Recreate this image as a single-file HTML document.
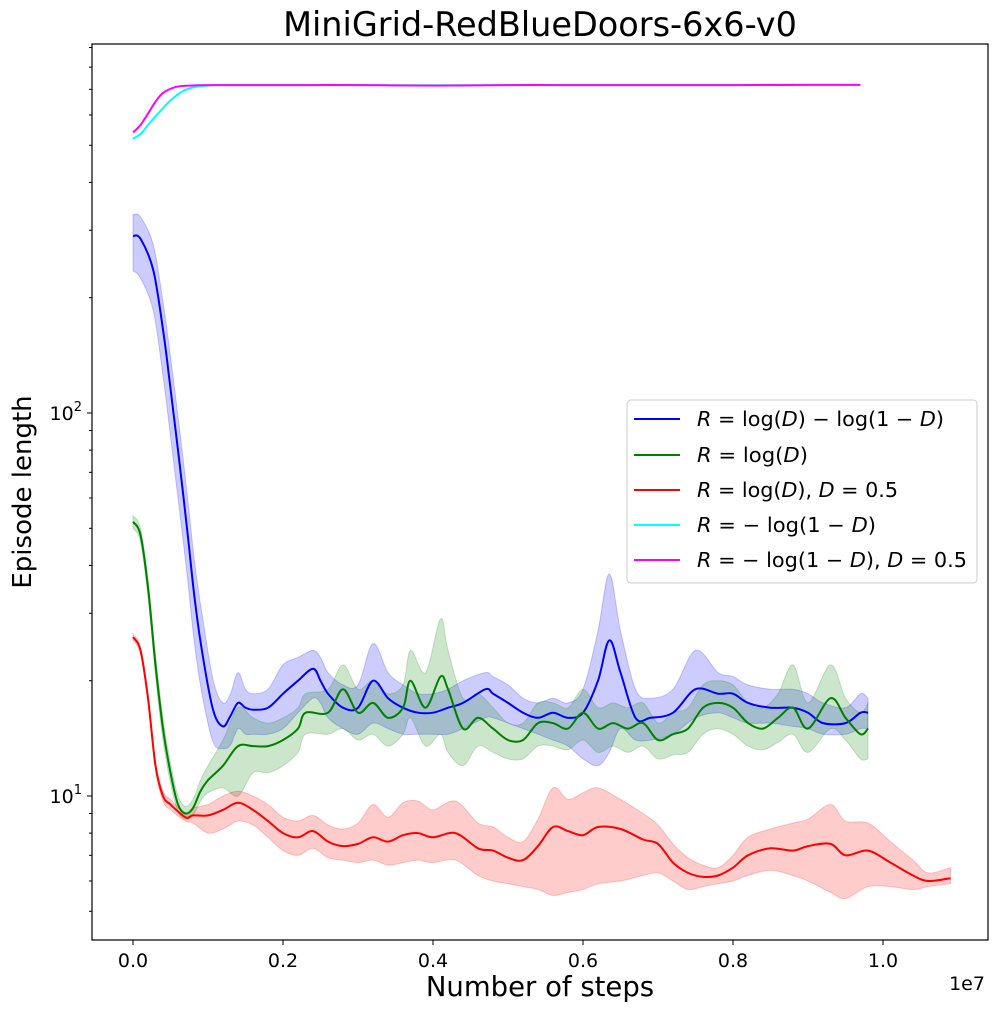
<!DOCTYPE html>
<html><head><meta charset="utf-8"><style>
body{margin:0;background:#fff;}
svg text{font-family:"DejaVu Sans","Liberation Sans",sans-serif;}
</style></head><body>
<svg id="chart" width="1001" height="1012" xmlns="http://www.w3.org/2000/svg">
<rect width="1001" height="1012" fill="#fff"/>
<g id="bands"></g><g id="lines"></g>
<rect x="92" y="44" width="896" height="896" fill="none" stroke="#000" stroke-width="1.2"/>
<g id="axes"></g>
<text x="540" y="36" font-size="33.5" text-anchor="middle">MiniGrid-RedBlueDoors-6x6-v0</text>
<text x="540" y="996" font-size="27.5" text-anchor="middle">Number of steps</text>
<text transform="translate(31,492) rotate(-90)" font-size="26" text-anchor="middle">Episode length</text>
<text x="967" y="990" font-size="19" text-anchor="middle">1e7</text>
<g>
<rect x="627" y="400" width="350" height="183" rx="4" fill="#fff" stroke="#ccc" stroke-width="1"/>
<g font-size="20">
<line x1="634" y1="419" x2="680" y2="419" stroke="#0000ff" stroke-width="2"/>
<text x="697" y="426" textLength="247" lengthAdjust="spacingAndGlyphs"><tspan font-style="italic">R</tspan> = log(<tspan font-style="italic">D</tspan>) − log(1 − <tspan font-style="italic">D</tspan>)</text>
<line x1="634" y1="455" x2="680" y2="455" stroke="#008000" stroke-width="2"/>
<text x="697" y="462" textLength="111" lengthAdjust="spacingAndGlyphs"><tspan font-style="italic">R</tspan> = log(<tspan font-style="italic">D</tspan>)</text>
<line x1="634" y1="490" x2="680" y2="490" stroke="#ff0000" stroke-width="2"/>
<text x="697" y="497" textLength="201" lengthAdjust="spacingAndGlyphs"><tspan font-style="italic">R</tspan> = log(<tspan font-style="italic">D</tspan>), <tspan font-style="italic">D</tspan> = 0.5</text>
<line x1="634" y1="525" x2="680" y2="525" stroke="#00ffff" stroke-width="2"/>
<text x="697" y="532" textLength="179" lengthAdjust="spacingAndGlyphs"><tspan font-style="italic">R</tspan> = − log(1 − <tspan font-style="italic">D</tspan>)</text>
<line x1="634" y1="560" x2="680" y2="560" stroke="#ff00ff" stroke-width="2"/>
<text x="697" y="567" textLength="270" lengthAdjust="spacingAndGlyphs"><tspan font-style="italic">R</tspan> = − log(1 − <tspan font-style="italic">D</tspan>), <tspan font-style="italic">D</tspan> = 0.5</text>
</g></g>
</svg>
<script>
const xTicks=[0,0.2,0.4,0.6,0.8,1.0];
const xTickLabels=["0.0","0.2","0.4","0.6","0.8","1.0"];
const blueX=[0,0.1,0.27,0.4,0.49,0.6,0.72,0.82,0.93,1.07,1.2,1.3,1.4,1.5,1.6,1.8,2.0,2.2,2.4,2.5,2.6,2.8,3.0,3.2,3.4,3.6,3.8,4.0,4.2,4.4,4.7,4.8,5.0,5.2,5.4,5.6,5.8,6.0,6.2,6.35,6.5,6.7,6.9,7.2,7.5,7.8,8.0,8.2,8.5,8.8,9.0,9.2,9.5,9.7,9.8];
const blueMean=[290,285,236,165,120,80,50,33,23.2,16.7,15.2,16.2,17.5,17,16.8,17,18.5,20,21.5,20,18.5,17,17,20,18,17,16.5,16.5,17,17.5,19,18.5,17.5,16.5,16,16.5,16,16.5,20,25.5,21,16,16,16.5,19,18.5,18.5,17.5,17,17,16.5,15.5,15.5,16.5,16.5];
const blueLo=[235,225,185,125,90,60,38,25,18,13.8,13.3,13.6,15,14.5,14.5,14.5,15,16.5,18,17.5,16,15,14.5,15.5,15,14.5,14.5,14.5,14.5,15,16,16,15.5,15,14.5,14,13.5,12.5,12,13,15,14,14,14.5,16,16.5,16,15.5,15.5,15.2,15,14.5,14.5,15,15];
const blueHi=[330,325,275,195,145,98,62,41,29,20,17.5,18.5,21,19,18.5,19,22,23,24,23,21,19.5,19.5,25,21,19.5,18.5,18.5,19,20,21,20.5,19.5,18,17.5,18,17.5,19,27,38,27,19,18,19,24,21,20.5,19.5,19,19,18.5,17.5,17,18.5,18];
const greenX=[0,0.1,0.2,0.3,0.4,0.5,0.6,0.7,0.8,0.9,1.0,1.2,1.4,1.6,1.8,2.0,2.2,2.3,2.6,2.8,3.0,3.2,3.4,3.6,3.7,3.9,4.1,4.2,4.4,4.6,4.8,5.0,5.2,5.4,5.6,5.8,6.0,6.2,6.4,6.6,6.8,7.0,7.2,7.4,7.6,7.8,8.0,8.2,8.4,8.6,8.8,9.0,9.3,9.5,9.7,9.8];
const greenMean=[52,48,35,22,15,11.5,9.5,9.0,9.3,10.3,11,12,13.5,13.5,13.5,14,15,16.5,16.5,19,16.5,17.5,16,17,20,17,20.5,19,15,16,15,14,14,15.5,15.5,15,16.5,15,15.5,15,15.5,14,14.5,15,17,17.5,17,15.5,15,16,17,15,18,16,14.5,15];
const greenLo=[50,46,33,20.5,14,10.8,9.1,8.7,8.9,9.7,10.2,10.5,10,11.5,11.5,12,13,14.5,14.5,15,14,14.5,13.5,14.5,16,13.5,14.5,13,12,13.5,13,12.5,12.5,13.5,13.5,13.2,14,13,13.5,13,13.5,12.5,12.8,13,14.5,15,14.5,13.5,13.2,13.8,14.5,13,15,14,12.5,12.5];
const greenHi=[54,50,37,23.5,16,12.2,10,9.4,9.8,11,12,14,17,16,15.5,16,17,18.5,19,22,19,20,18.5,19.5,24,21,29,24,18,18.5,17,15.5,15.5,17.5,17.5,17,19,17,17.5,17,17.5,15.5,16.5,17,19.5,20,19.5,17.5,17,18.5,22,17.5,22,18,16.5,17.5];
const redX=[0,0.1,0.2,0.3,0.4,0.5,0.7,0.8,1.0,1.2,1.4,1.6,1.8,2.0,2.2,2.4,2.6,2.8,3.0,3.2,3.4,3.6,3.8,4.0,4.3,4.6,4.8,5.0,5.2,5.4,5.6,5.8,6.0,6.2,6.5,6.8,7.0,7.2,7.4,7.6,7.8,8.0,8.2,8.5,8.8,9.0,9.3,9.5,9.8,10.1,10.4,10.6,10.9];
const redMean=[26,24,18,12,10,9.5,8.8,8.9,8.9,9.2,9.6,9.2,8.6,8.0,7.8,8.1,7.6,7.4,7.5,7.8,7.6,7.9,8.0,7.8,8.0,7.3,7.2,6.9,6.8,7.4,8.3,8.1,7.9,8.3,8.2,7.7,7.5,6.7,6.3,6.15,6.2,6.5,7.0,7.3,7.2,7.4,7.5,7.0,7.2,6.7,6.2,6.0,6.1];
const redLo=[25.5,23.5,17.5,11.7,9.7,9.2,8.6,8.5,8.0,8.2,8.6,8.4,7.8,7.2,7.0,7.3,6.9,6.8,6.7,6.8,6.6,6.7,6.8,6.7,6.8,6.2,6.0,5.9,5.8,5.7,5.5,5.6,5.7,5.9,6.0,6.2,6.3,6.0,5.7,5.8,5.9,6.0,6.2,6.4,6.2,6.0,5.6,5.4,5.8,5.8,5.7,5.8,5.9];
const redHi=[26.5,24.5,18.5,12.3,10.3,9.8,9.0,9.3,9.5,10,10.3,10,9.5,8.8,8.6,8.9,8.4,8.2,8.5,9.5,8.8,9.6,9.7,9.2,9.7,8.5,8.3,7.8,7.6,8.7,10.5,9.8,10.2,10.5,9.8,9.0,8.4,7.5,6.9,6.6,6.5,7.0,7.8,8.2,8.5,8.7,9.5,8.6,8.5,7.6,6.8,6.3,6.5];
const cyanX=[0,0.1,0.2,0.35,0.5,0.65,0.8,1.0,1.2,2,3,4,5,6,7,8,8.8];
const cyanMean=[520,535,565,610,655,690,708,716,718,718,718,717,718,718,718,718,718];
const magentaX=[0,0.1,0.2,0.3,0.4,0.55,0.7,0.85,1.0,2,3,4,5,6,7,8,9,9.7];
const magentaMean=[540,565,605,650,685,708,715,717,718,718,718,716,718,718,718,718,719,719];

const NS="http://www.w3.org/2000/svg";
const X0=92,X1=988,Y0=44,Y1=940;
const sx=v=>133+750*v/1e7;
const sy=v=>796-383*Math.log10(v/10);
function mk(t,a,parent){const e=document.createElementNS(NS,t);for(const k in a)e.setAttribute(k,a[k]);parent.appendChild(e);return e;}
function smooth(pts){let d="M"+pts[0][0].toFixed(1)+","+pts[0][1].toFixed(1);
 for(let i=0;i<pts.length-1;i++){const p0=pts[Math.max(0,i-1)],p1=pts[i],p2=pts[i+1],p3=pts[Math.min(pts.length-1,i+2)];
  const c1=[p1[0]+(p2[0]-p0[0])/6,p1[1]+(p2[1]-p0[1])/6],c2=[p2[0]-(p3[0]-p1[0])/6,p2[1]-(p3[1]-p1[1])/6];
  d+="C"+c1[0].toFixed(1)+","+c1[1].toFixed(1)+" "+c2[0].toFixed(1)+","+c2[1].toFixed(1)+" "+p2[0].toFixed(1)+","+p2[1].toFixed(1);}
 return d;}
const bands=document.getElementById('bands'),lines=document.getElementById('lines'),axes=document.getElementById('axes');
function band(xs,lo,hi,color,name){
 const up=xs.map((x,i)=>[sx(x*1e6),sy(hi[i])]);
 const dn=xs.map((x,i)=>[sx(x*1e6),sy(lo[i])]).reverse();
 const d=smooth(up)+"L"+smooth(dn).slice(1)+"Z";
 const p=mk('path',{d:d,fill:color,'fill-opacity':0.2,stroke:color,'stroke-opacity':0.2},bands);
 
 
}
function line(xs,ys,color,name){
 const p=mk('path',{d:smooth(xs.map((x,i)=>[sx(x*1e6),sy(ys[i])])),fill:'none',stroke:color,'stroke-width':2},lines);
 
 
}
band(blueX,blueLo,blueHi,'#0000ff','blue-band');
band(greenX,greenLo,greenHi,'#008000','green-band');
band(redX,redLo,redHi,'#ff0000','red-band');
line(cyanX,cyanMean,'#00ffff','cyan-line');
line(magentaX,magentaMean,'#ff00ff','magenta-line');
line(blueX,blueMean,'#0000ff','blue-line');
line(greenX,greenMean,'#008000','green-line');
line(redX,redMean,'#ff0000','red-line');
xTicks.forEach((v,i)=>{const x=sx(v*1e7);
 mk('line',{x1:x,x2:x,y1:Y1,y2:Y1+5,stroke:'#000'},axes);
 const t=mk('text',{x:x,y:Y1+27,'font-size':19,'text-anchor':'middle'},axes);t.textContent=xTickLabels[i];
 
 
});
for(let dec=1;dec<=100;dec*=10){for(let m=1;m<10;m++){const v=dec*m,y=sy(v);if(y<Y0||y>Y1)continue;
 mk('line',{x1:X0-(m==1?5:3),x2:X0,y1:y,y2:y,stroke:'#000'},axes);
 if(m==1){const t=mk('text',{x:X0-10,y:y+7,'font-size':19,'text-anchor':'end'},axes);
  t.innerHTML='10<tspan font-size="13" dy="-9">'+Math.round(Math.log10(v))+'</tspan>';
  
  }}}
</script>
</body></html>
